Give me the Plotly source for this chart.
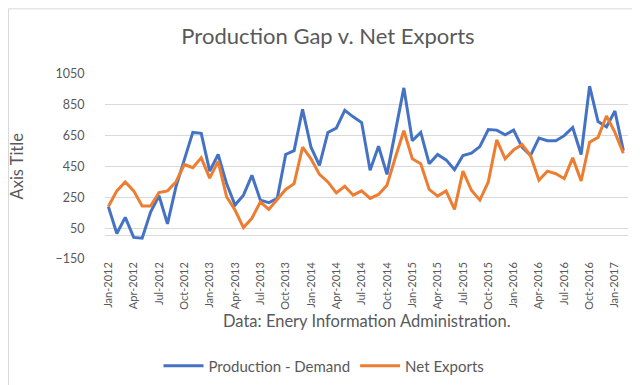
import plotly.graph_objects as go

month_names = ["Jan", "Feb", "Mar", "Apr", "May", "Jun", "Jul", "Aug", "Sep", "Oct", "Nov", "Dec"]
months = [f"{month_names[m]}-{y}" for y in range(2012, 2018) for m in range(12)][:62]

production_gap = [190, 15, 120, -10, -15, 155, 260, 78, 318, 489, 671, 665,
                  420, 528, 339, 200, 264, 393, 232, 215, 243, 528, 553, 821,
                  575, 457, 671, 699, 814, 772, 735, 425, 581, 399, 682, 960,
                  617, 671, 468, 528, 493, 429, 521, 536, 579, 690, 686, 656,
                  686, 575, 521, 635, 617, 617, 650, 703, 528, 971, 742, 707,
                  810, 553]
net_exports = [190, 292, 350, 292, 194, 194, 281, 292, 350, 463, 442, 506,
               375, 483, 254, 168, 54, 114, 221, 172, 236, 301, 339, 575,
               500, 399, 350, 279, 322, 264, 292, 243, 269, 329, 510, 682,
               500, 468, 301, 258, 292, 172, 420, 296, 232, 350, 622, 500,
               558, 592, 521, 361, 420, 403, 371, 506, 356, 607, 639, 778,
               671, 536]
tick_labels = months[::3]

FONT = "Lato"
GRAY = "#595959"

fig = go.Figure()
fig.add_trace(go.Scatter(x=months, y=production_gap, mode="lines", name="Production - Demand",
                         line=dict(color="#4472C4", width=3)))
fig.add_trace(go.Scatter(x=months, y=net_exports, mode="lines", name="Net Exports",
                         line=dict(color="#ED7D31", width=3)))

W, H = 640, 385
L, R, T, B = 97, 20, 66, 133
pw, ph = W - L - R, H - T - B

def px(x):
    return (x - L) / pw

def py(y):
    return (H - B - y) / ph

fig.update_layout(
    width=W, height=H,
    margin=dict(l=L, r=R, t=T, b=B),
    paper_bgcolor="white", plot_bgcolor="white",
    font=dict(family=FONT, color=GRAY),
    title=dict(text="Production Gap v. Net Exports", x=0.5, xanchor="center",
               y=1 - 28 / H, yanchor="middle",
               font=dict(family=FONT, size=22, color=GRAY)),
    showlegend=True,
    legend=dict(orientation="h", x=px(316), xanchor="center", y=py(358), yanchor="middle",
                font=dict(family=FONT, size=15, color=GRAY), itemwidth=40,
                bgcolor="rgba(0,0,0,0)"),
    xaxis=dict(type="category", range=[-0.4, 61.55], tickmode="array",
               tickvals=tick_labels, ticktext=tick_labels, tickangle=-90,
               tickfont=dict(family=FONT, size=11, color=GRAY),
               showgrid=False, zeroline=False, showline=False, ticks=""),
    yaxis=dict(range=[-150, 1050], tick0=-150, dtick=200,
               tickfont=dict(family=FONT, size=12.5, color=GRAY),
               showgrid=True, gridcolor="#D9D9D9", gridwidth=1,
               zeroline=True, zerolinecolor="#D9D9D9", zerolinewidth=1,
               showline=False, ticks="outside", ticklen=17, tickcolor="rgba(0,0,0,0)"),
    annotations=[
        dict(text="Data: Enery Information Administration.", xref="paper", yref="paper",
             x=0.5, y=py(314), xanchor="center", yanchor="middle", showarrow=False,
             font=dict(family=FONT, size=16.5, color=GRAY)),
        dict(text="Axis Title", xref="paper", yref="paper", textangle=-90,
             x=px(8), y=0.5, xanchor="center", yanchor="middle", showarrow=False,
             font=dict(family=FONT, size=16.5, color=GRAY)),
    ],
    shapes=[dict(type="rect", xref="paper", yref="paper",
                 x0=px(0.5), x1=px(639.5), y0=py(384.5), y1=py(0.5),
                 line=dict(color="#D9D9D9", width=1), fillcolor="rgba(0,0,0,0)", layer="below")],
)

fig.write_html("out.html")
